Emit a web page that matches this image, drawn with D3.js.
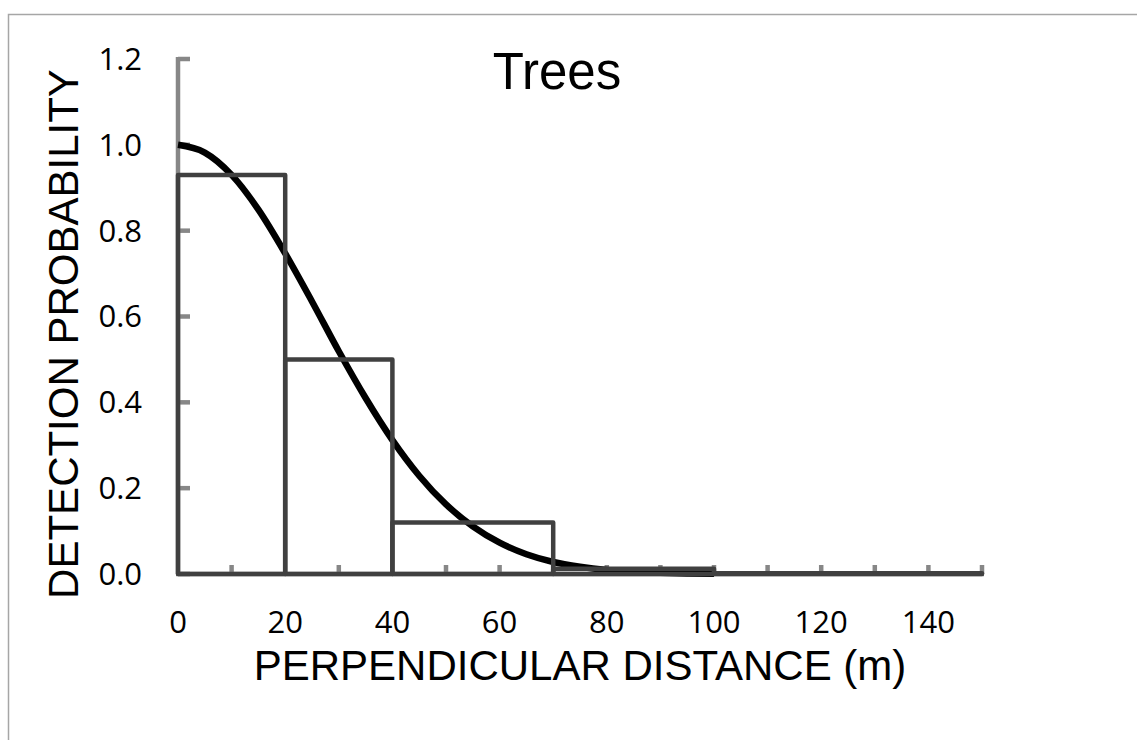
<!DOCTYPE html>
<html>
<head>
<meta charset="utf-8">
<script src="https://cdn.jsdelivr.net/npm/d3@7"></script>
<style>
  body { margin: 0; background: #fff; }
  svg { display: block; }
</style>
</head>
<body>
<svg id="chart" width="1137" height="740"></svg>
<script>
// histogram bins (perpendicular distance, m) and observed detection proportion
const binStart = [0, 20, 40, 70, 100];
const binEnd = [20, 40, 70, 100, 150];
const binValue = [0.93, 0.5, 0.12, 0.012, 0.002];

// fitted detection curve
const curveX = [0, 5, 10, 15, 20, 25, 30, 35, 40, 45, 50, 55, 60, 65, 70, 75, 80, 85, 90, 95, 100];
const curveY = [1.0, 0.982, 0.93, 0.849, 0.747, 0.635, 0.519, 0.41, 0.312, 0.229, 0.162, 0.111, 0.073, 0.046, 0.028, 0.017, 0.0095, 0.005, 0.0027, 0.0014, 0.0007];

const xTicks = [0, 20, 40, 60, 80, 100, 120, 140];
const xMinorTicks = [10, 30, 50, 60, 70, 80, 90, 100, 110, 120, 130, 140, 150];
const yTicks = [0, 0.2, 0.4, 0.6, 0.8, 1.0, 1.2];

const title = "Trees";
const xTitle = "PERPENDICULAR DISTANCE (m)";
const yTitle = "DETECTION PROBABILITY";

const svg = d3.select("#chart");
const axisColor = "#878787";
const barColor = "#404040";
const tickFont = "'Open Sans', sans-serif";
const titleFont = "'Liberation Sans', Arial, sans-serif";

let x = d3.scaleLinear().domain([0, 150]).range([178, 982]);
let y = d3.scaleLinear().domain([0, 1.2]).range([574, 59]);

// outer frame
svg.append("path")
  .attr("d", "M8.5,740 L8.5,14.5 L1137,14.5")
  .attr("fill", "none")
  .attr("stroke", "#a6a6a6")
  .attr("stroke-width", 1.5);

// y axis
let yAxis = svg.append("g").attr("class", "y axis");
yAxis.append("line")
  .attr("x1", x(0)).attr("x2", x(0))
  .attr("y1", y(1.2) - 2).attr("y2", y(0))
  .attr("stroke", axisColor).attr("stroke-width", 4.5);
yAxis.selectAll(".tick")
  .data(yTicks)
  .enter()
  .append("line")
  .attr("class", "tick")
  .attr("x1", x(0)).attr("x2", x(0) + 12)
  .attr("y1", (d) => y(d)).attr("y2", (d) => y(d))
  .attr("stroke", axisColor).attr("stroke-width", 4.5);
yAxis.selectAll(".label")
  .data(yTicks)
  .enter()
  .append("text")
  .attr("class", "label")
  .attr("x", 142)
  .attr("y", (d) => y(d))
  .attr("dy", "0.35em")
  .attr("text-anchor", "end")
  .style("font-family", tickFont)
  .style("font-size", "31px")
  .text((d) => d3.format(".1f")(d));

// x axis
let xAxis = svg.append("g").attr("class", "x axis");
xAxis.append("line")
  .attr("x1", x(0) - 2).attr("x2", x(150) + 2)
  .attr("y1", y(0)).attr("y2", y(0))
  .attr("stroke", axisColor).attr("stroke-width", 4.5);
xAxis.selectAll(".tick")
  .data(xMinorTicks)
  .enter()
  .append("line")
  .attr("class", "tick")
  .attr("x1", (d) => x(d)).attr("x2", (d) => x(d))
  .attr("y1", y(0)).attr("y2", y(0) - 9)
  .attr("stroke", axisColor).attr("stroke-width", 4.5);
xAxis.selectAll(".label")
  .data(xTicks)
  .enter()
  .append("text")
  .attr("class", "label")
  .attr("x", (d) => x(d))
  .attr("y", 633)
  .attr("text-anchor", "middle")
  .style("font-family", tickFont)
  .style("font-size", "31px")
  .text((d) => d);

// detection function
let line = d3.line()
  .x((d, i) => x(curveX[i]))
  .y((d) => y(d))
  .curve(d3.curveMonotoneX);

svg.append("path")
  .datum(curveY)
  .attr("d", line)
  .attr("fill", "none")
  .attr("stroke", "#000")
  .attr("stroke-width", 6.5);

// histogram bars
svg.append("g")
  .selectAll("rect")
  .data(binValue)
  .enter()
  .append("rect")
  .attr("x", (d, i) => x(binStart[i]))
  .attr("y", (d) => y(d))
  .attr("width", (d, i) => x(binEnd[i]) - x(binStart[i]))
  .attr("height", (d) => y(0) - y(d))
  .attr("fill", "none")
  .attr("stroke", barColor)
  .attr("stroke-width", 4.5)
  .attr("stroke-linejoin", "round");

// titles
svg.append("text")
  .attr("x", 557)
  .attr("y", 89)
  .attr("text-anchor", "middle")
  .style("font-family", titleFont)
  .style("font-size", "51px")
  .text(title);

svg.append("text")
  .attr("x", 580)
  .attr("y", 680)
  .attr("text-anchor", "middle")
  .style("font-family", titleFont)
  .style("font-size", "42px")
  .text(xTitle);

svg.append("text")
  .attr("transform", "translate(78,334) rotate(-90)")
  .attr("text-anchor", "middle")
  .style("font-family", titleFont)
  .style("font-size", "42px")
  .text(yTitle);
</script>
</body>
</html>
